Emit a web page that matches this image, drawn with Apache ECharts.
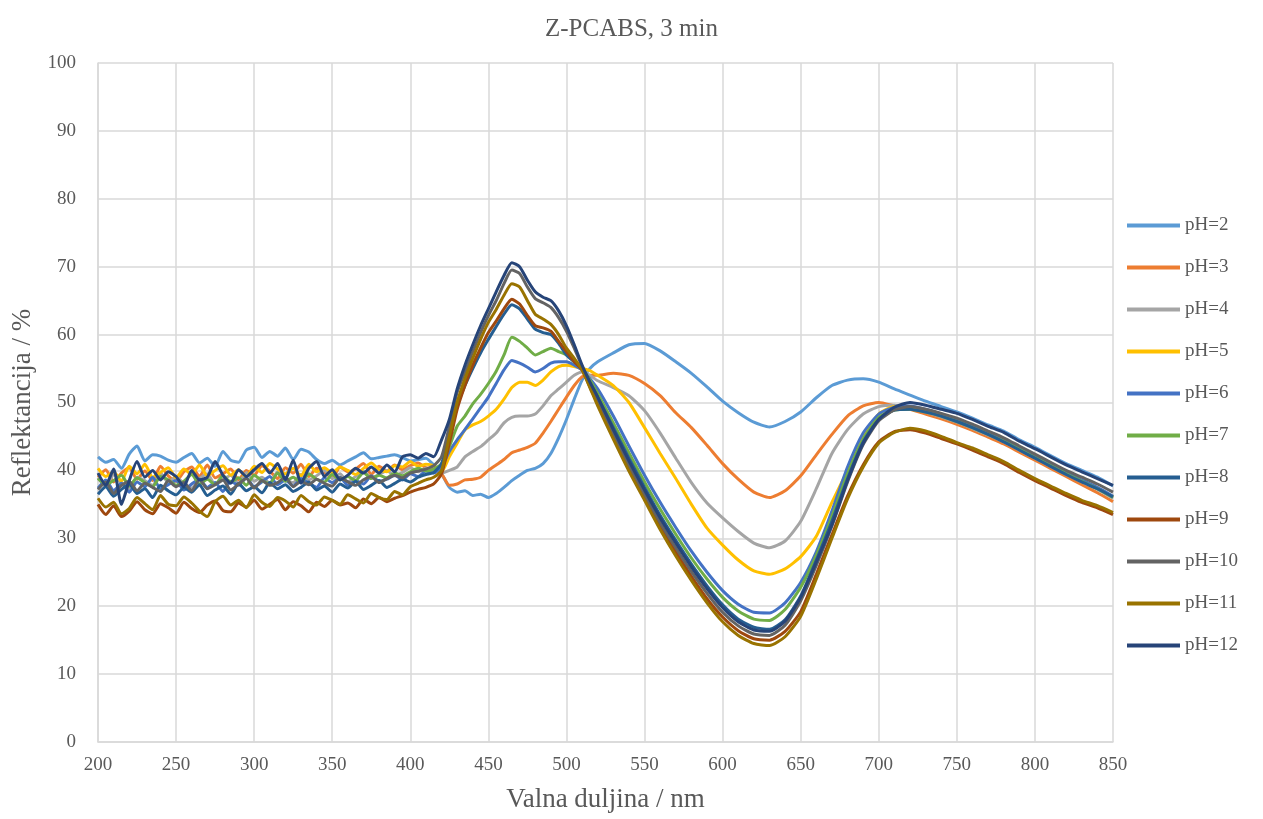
<!DOCTYPE html>
<html>
<head>
<meta charset="utf-8">
<script src="https://cdn.jsdelivr.net/npm/echarts@6/dist/echarts.min.js"></script>
<style>
html,body{margin:0;padding:0;background:#fff;}
#chart{width:1263px;height:819px;}
</style>
</head>
<body>
<div id="chart"></div>
<script>
// Wavelengths (nm)
const wavelengths = [200,205,210,215,220,225,230,235,240,245,250,255,260,265,270,275,280,285,290,295,300,305,310,315,320,325,330,335,340,345,350,355,360,365,370,375,380,385,390,395,400,405,410,415,420,425,430,435,440,445,450,455,460,465,470,475,480,485,490,495,500,505,510,515,520,530,540,550,560,570,580,590,600,610,620,630,640,650,660,670,680,690,700,710,720,730,740,750,760,770,780,790,800,810,820,830,840,850];

const seriesNames = ['pH=2','pH=3','pH=4','pH=5','pH=6','pH=7','pH=8','pH=9','pH=10','pH=11','pH=12'];

const pH2 = [42.0,41.2,41.6,40.3,42.4,43.6,41.4,42.3,42.1,41.5,41.2,41.9,42.5,41.1,41.8,40.6,42.8,41.5,41.2,43.0,43.4,41.9,42.8,42.1,43.3,41.6,43.1,42.7,41.6,41.0,41.5,40.8,41.4,42.0,42.6,41.7,41.9,42.1,42.3,41.9,41.4,41.6,41.8,40.8,
39.5,37.5,36.8,37.0,36.3,36.5,36.0,36.6,37.5,38.5,39.3,40.0,40.3,41.0,42.5,44.8,47.5,50.5,53.3,55.0,56.0,
57.3,58.5,58.7,57.6,56.0,54.3,52.3,50.2,48.5,47.1,46.4,47.2,48.6,50.7,52.5,53.3,53.5,53.0,52.0,51.1,50.2,49.4,48.6,47.7,46.7,45.8,44.5,43.4,42.2,41.0,40.0,39.0,37.7];

const pH3 = [39.0,40.1,38.3,39.6,40.4,38.7,39.9,38.5,40.6,39.2,38.4,39.8,40.5,39.1,40.8,38.9,39.5,40.2,38.6,40.0,39.3,40.7,39.9,38.8,40.4,39.6,40.9,39.1,40.3,39.7,38.9,40.5,39.8,40.2,41.0,39.4,40.6,39.9,40.8,40.1,40.7,41.1,40.4,40.2,
39.5,37.8,38.0,38.6,38.7,39.0,40.0,40.8,41.6,42.6,43.0,43.4,44.0,45.5,47.2,49.0,50.8,52.5,53.8,54.0,54.0,
54.3,54.0,52.8,51.0,48.5,46.3,43.7,41.0,38.7,36.8,36.0,37.0,39.2,42.3,45.3,48.0,49.5,50.0,49.5,49.0,48.3,47.6,46.8,45.9,44.9,43.9,42.7,41.5,40.3,39.1,37.9,36.7,35.4];

const pH4 = [38.9,37.6,39.4,38.1,37.3,39.0,38.5,37.8,39.6,38.2,39.1,38.0,37.4,38.8,39.5,37.9,38.6,39.3,38.0,39.7,38.4,39.0,38.1,39.8,38.7,38.2,39.4,38.6,39.2,40.0,38.8,39.5,38.3,39.1,39.9,38.9,39.4,40.0,39.2,39.7,40.4,39.8,40.3,39.9,
39.6,40.0,40.5,42.0,42.8,43.5,44.5,45.5,47.0,47.8,48.0,48.0,48.3,49.5,51.0,52.0,53.0,54.0,54.5,54.0,53.2,
52.2,51.0,48.8,45.5,41.8,38.2,35.2,33.0,31.0,29.3,28.6,29.6,32.5,37.3,42.5,46.0,48.3,49.4,49.6,49.2,48.6,47.9,47.1,46.2,45.2,44.2,43.0,41.8,40.6,39.4,38.3,37.2,35.9];

const pH5 = [40.3,39.1,39.8,38.4,40.6,39.5,40.9,39.0,39.7,40.4,38.9,40.2,39.4,40.8,39.2,40.0,40.7,39.3,40.1,39.0,40.6,39.7,41.0,40.2,39.5,40.3,39.2,40.9,39.8,40.4,39.6,40.5,40.0,39.4,40.3,41.1,40.1,39.8,40.7,40.5,41.3,40.6,40.9,40.7,
39.8,42.0,44.0,46.0,46.7,47.2,48.0,49.0,50.5,52.2,53.0,53.0,52.5,53.3,54.5,55.3,55.5,55.3,55.0,54.7,54.0,
52.5,50.0,46.3,42.5,38.8,35.0,31.5,29.0,26.8,25.2,24.7,25.5,27.3,30.3,35.3,40.0,44.8,48.3,49.4,49.3,48.8,48.1,47.3,46.4,45.4,44.4,43.2,42.0,40.8,39.6,38.5,37.4,36.1];

const pH6 = [37.4,38.6,37.0,38.1,36.8,38.3,37.6,39.0,37.3,37.9,38.5,37.1,38.0,38.7,37.5,38.2,36.9,38.4,37.8,38.9,37.6,38.3,39.1,37.9,38.6,37.7,38.8,38.1,37.5,38.9,38.2,39.0,37.8,38.5,38.0,39.2,38.4,38.7,39.3,38.6,39.5,39.1,39.9,39.6,
40.5,42.8,44.5,46.0,47.6,49.2,50.8,52.8,54.8,56.2,55.8,55.2,54.5,55.0,55.8,56.0,56.0,55.5,54.8,53.5,52.0,
48.0,43.6,39.3,35.3,31.6,28.1,25.0,22.3,20.3,19.1,19.0,20.5,23.5,28.0,34.0,40.5,45.5,48.3,49.3,49.5,49.0,48.3,47.5,46.6,45.6,44.5,43.3,42.1,40.9,39.7,38.6,37.5,36.2];

const pH7 = [38.8,37.9,38.5,39.3,37.7,38.9,38.2,37.6,39.1,38.6,37.8,38.4,39.4,38.0,38.7,37.9,39.2,38.3,38.9,37.8,39.3,38.5,38.1,39.6,38.4,39.0,38.2,39.5,38.7,38.3,39.4,38.6,39.1,38.5,39.7,38.8,39.3,38.9,39.6,39.2,39.8,40.3,39.9,40.2,
41.0,43.5,46.5,48.0,49.8,51.2,52.8,54.6,57.0,59.6,59.0,58.0,57.0,57.5,58.0,57.5,57.0,56.0,55.0,53.3,51.3,
47.0,42.6,38.3,34.3,30.6,27.1,24.0,21.3,19.3,18.1,17.9,19.5,22.8,27.5,33.2,39.5,44.6,47.8,48.9,49.0,48.6,48.0,47.2,46.3,45.3,44.3,43.1,41.9,40.7,39.5,38.4,37.3,36.0];

const pH8 = [36.5,37.6,36.2,37.2,38.0,36.6,37.3,36.0,37.8,37.0,36.4,37.5,36.8,37.9,36.3,37.1,37.7,36.5,38.1,37.0,37.6,36.7,38.2,37.3,37.9,36.9,37.5,38.3,37.1,37.7,36.8,38.0,37.4,38.4,37.2,37.8,38.5,37.5,38.1,38.7,38.3,39.0,39.4,39.7,
41.0,45.0,49.5,52.5,55.0,57.3,59.3,61.2,63.0,64.4,63.8,62.3,60.8,60.3,60.0,58.7,57.0,56.0,55.0,53.0,50.8,
46.3,41.8,37.5,33.4,29.7,26.2,23.0,20.2,18.1,16.9,16.6,18.0,21.5,26.8,32.5,38.8,44.2,47.5,48.9,49.0,48.6,48.0,47.2,46.3,45.3,44.2,43.0,41.8,40.6,39.4,38.3,37.3,36.1];

const pH9 = [35.0,33.5,34.8,33.2,34.0,35.4,34.2,33.6,35.1,34.5,33.7,35.3,34.4,33.8,34.9,35.5,34.1,33.9,35.2,34.6,35.6,34.3,35.0,35.7,34.2,35.4,34.8,33.9,35.3,34.7,35.6,34.9,35.2,34.5,35.8,35.1,36.0,35.4,35.9,36.3,36.8,37.2,37.5,38.0,
39.5,44.0,49.0,52.5,55.5,58.0,60.3,62.0,63.8,65.2,64.5,62.8,61.3,61.0,60.5,59.0,57.5,56.0,54.8,52.3,49.8,
45.0,40.3,36.0,31.8,28.0,24.4,21.1,18.4,16.4,15.2,15.0,16.3,19.2,24.7,30.5,36.2,40.8,44.2,45.7,46.0,45.5,44.7,43.9,43.0,42.0,41.0,39.7,38.5,37.4,36.3,35.3,34.5,33.5];

const pH10 = [37.2,38.3,36.6,37.8,38.4,37.0,38.1,37.5,36.9,38.5,37.6,38.2,37.0,38.7,37.3,37.9,38.6,37.1,38.0,38.8,37.4,38.5,37.8,38.2,39.0,37.6,38.4,37.9,38.7,38.1,37.7,38.9,38.3,37.8,38.6,39.1,38.2,38.8,39.3,38.9,39.6,39.9,40.2,40.7,
42.0,46.5,51.5,54.5,57.5,60.3,62.8,65.0,67.5,69.5,69.0,67.0,65.3,64.7,64.0,62.5,60.5,58.0,55.3,52.9,50.5,
45.5,40.8,36.5,32.3,28.6,25.1,21.9,19.1,17.1,15.9,15.7,17.2,20.8,26.0,31.8,38.3,43.8,47.3,48.9,49.4,49.0,48.4,47.7,46.8,45.8,44.8,43.6,42.4,41.2,40.0,39.0,38.0,36.8];

const pH11 = [35.9,34.6,35.3,33.6,34.4,36.0,35.1,34.2,36.3,35.0,34.8,36.1,35.2,34.0,33.2,35.4,36.2,34.9,35.6,34.5,36.4,35.3,34.7,36.0,35.5,34.6,36.3,35.4,34.9,36.1,35.6,35.0,36.4,35.8,35.2,36.6,36.0,35.7,36.9,36.4,37.6,38.1,38.6,39.0,
40.0,45.0,50.0,53.5,56.5,59.3,61.8,63.7,65.8,67.5,67.0,65.0,63.0,62.3,61.5,60.0,58.0,56.5,54.8,52.2,49.5,
44.6,39.9,35.6,31.3,27.4,23.8,20.5,17.7,15.7,14.5,14.2,15.5,18.5,24.0,30.0,35.8,40.5,44.0,45.6,46.2,45.8,45.0,44.1,43.3,42.3,41.3,40.0,38.8,37.7,36.6,35.6,34.8,33.8];

const pH12 = [39.6,37.8,40.2,35.0,38.5,41.3,39.0,40.0,38.6,39.8,39.1,37.6,40.0,38.6,39.0,41.3,39.3,38.1,40.1,39.1,40.1,41.0,39.6,41.0,38.6,41.5,38.1,40.3,41.3,39.1,40.1,38.6,39.3,40.3,39.6,40.5,39.6,40.8,39.8,42.0,42.3,41.8,42.5,42.0,
44.5,47.5,52.0,55.5,58.5,61.3,63.8,66.3,68.7,70.6,70.0,68.0,66.3,65.5,65.0,63.5,61.3,58.5,55.5,53.0,50.8,
46.0,41.4,37.1,33.0,29.3,25.8,22.6,19.8,17.7,16.5,16.3,17.8,21.3,26.5,32.0,38.5,44.0,47.5,49.3,50.0,49.6,49.0,48.4,47.5,46.5,45.6,44.3,43.2,42.0,40.8,39.8,38.8,37.8];

const allValues = [pH2,pH3,pH4,pH5,pH6,pH7,pH8,pH9,pH10,pH11,pH12];
const colors = ['#5B9BD5','#ED7D31','#A5A5A5','#FFC000','#4472C4','#70AD47','#255E91','#9E480E','#636363','#997300','#264478'];

const FONT = "'Liberation Serif','Times New Roman',serif";
const chart = echarts.init(document.getElementById('chart'), null, {renderer:'canvas'});

const series = seriesNames.map((name,i)=>({
  name: name,
  type: 'line',
  data: wavelengths.map((w,j)=>[w, allValues[i][j]]),
  showSymbol: false,
  symbol: 'none',
  smooth: 0.2,
  lineStyle: {width: 3, color: colors[i]},
  itemStyle: {color: colors[i]},
  emphasis: {disabled: true},
  animation: false
}));

chart.setOption({
  animation: false,
  backgroundColor: '#fff',
  title: {
    text: 'Z-PCABS, 3 min',
    left: 'center',
    top: 12,
    textStyle: {fontFamily: FONT, fontSize: 25, fontWeight: 'normal', color: '#595959'}
  },
  grid: {left: 98, right: 150, top: 63, bottom: 77, containLabel: false},
  legend: {
    orient: 'vertical',
    left: 1122,
    top: 211,
    itemWidth: 53,
    itemHeight: 4,
    itemGap: 23,
    icon: 'rect',
    textStyle: {fontFamily: FONT, fontSize: 19, color: '#595959', padding: [0,0,0,0]},
    data: seriesNames
  },
  xAxis: {
    type: 'value',
    min: 200, max: 850, interval: 50,
    name: 'Valna duljina / nm',
    nameLocation: 'middle',
    nameGap: 44,
    nameTextStyle: {fontFamily: FONT, fontSize: 27, color: '#595959'},
    axisLine: {show: true, lineStyle: {color: '#d9d9d9', width: 1.5}},
    axisTick: {show: false},
    axisLabel: {fontFamily: FONT, fontSize: 19, color: '#595959', margin: 14},
    splitLine: {show: true, lineStyle: {color: '#d9d9d9', width: 1.5}}
  },
  yAxis: {
    type: 'value',
    min: 0, max: 100, interval: 10,
    name: 'Reflektancija / %',
    nameLocation: 'middle',
    nameGap: 57,
    nameTextStyle: {fontFamily: FONT, fontSize: 27, color: '#595959'},
    axisLine: {show: true, lineStyle: {color: '#d9d9d9', width: 1.5}},
    axisTick: {show: false},
    axisLabel: {fontFamily: FONT, fontSize: 19, color: '#595959', margin: 22},
    splitLine: {show: true, lineStyle: {color: '#d9d9d9', width: 1.5}}
  },
  series: series
});
</script>
</body>
</html>
